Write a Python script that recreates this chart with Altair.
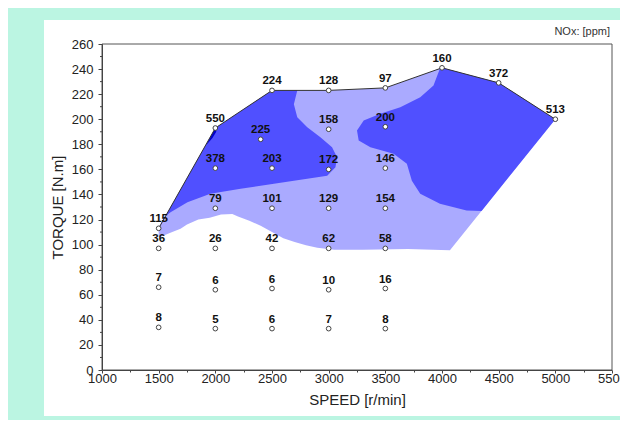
import altair as alt
import pandas as pd

# ---- measured points (speed rpm, torque N.m, NOx ppm label) ----
pt_speed = [1500, 1500, 1500, 1500,
            2000, 2000, 2000, 2000, 2000, 2000,
            2400,
            2500, 2500, 2500, 2500, 2500, 2500,
            3000, 3000, 3000, 3000, 3000, 3000, 3000,
            3500, 3500, 3500, 3500, 3500, 3500, 3500,
            4000, 4500, 5000]
pt_torque = [113, 97, 66, 34,
             193, 161, 129, 97, 64, 33,
             184,
             223, 161, 129, 97, 65, 33,
             223, 192, 160, 129, 97, 64, 33,
             225, 194, 161, 129, 97, 65, 33,
             241, 229, 200]
pt_nox = [115, 36, 7, 8,
          550, 378, 79, 26, 6, 5,
          225,
          224, 203, 101, 42, 6, 6,
          128, 158, 172, 129, 62, 10, 7,
          97, 200, 146, 154, 58, 16, 8,
          160, 372, 513]

# ---- full-load envelope ----
env_speed = [1500, 2000, 2500, 3000, 3500, 4000, 4500, 5000]
env_torque = [113, 193, 223, 223, 225, 241, 229, 200]

# ---- contour regions ----
light_speed = [1500, 2000, 2500, 3000, 3500, 4000, 4500, 5000, 4070,
               3700, 3300, 3050, 2900, 2800, 2700, 2600, 2500, 2400, 2300,
               2200, 2150, 2050, 1950, 1850, 1750, 1693, 1620, 1550, 1500]
light_torque = [113, 193, 223, 223, 225, 241, 229, 200, 95.5,
                96.5, 96, 96, 97.5, 99.5, 102, 105, 110, 115, 119,
                122.5, 124.5, 124, 121.5, 120, 116, 112.6, 110, 107.5, 106]

midL_speed = [1500, 2000, 2500, 2723, 2693, 2723, 2811, 2927, 3030, 3074,
              3060, 2987, 2811, 2517, 2223, 1956, 1754, 1605, 1546]
midL_torque = [113, 193, 223, 223, 212, 201.6, 193.6, 185.6, 177.7, 169.7,
               161.7, 155, 152.5, 148.5, 144.5, 140.5, 133.8, 125.8, 121.8]

midR_speed = [3982, 4000, 4500, 5000, 4349, 4217, 3982, 3808, 3734, 3690,
              3573, 3368, 3265, 3250, 3309, 3456, 3632, 3808, 3925]
midR_torque = [240.4, 241, 229, 200, 126.8, 127.2, 132.5, 140.5, 151, 164.4,
               172.4, 177.7, 183, 191, 199, 204.3, 209.6, 217.5, 226.9]

high_speed = [1920, 2000, 2008, 1975]
high_torque = [179.4, 193, 190, 185]

# ---- axis ticks ----
x_ticks = list(range(1000, 5501, 250))
y_major = list(range(0, 261, 20))
y_minor = list(range(10, 260, 20))


def poly(sp, tq):
    return pd.DataFrame({"speed": sp, "torque": tq, "i": list(range(len(sp)))})


pts = pd.DataFrame({"speed": pt_speed, "torque": pt_torque, "nox": pt_nox})
env = pd.DataFrame({"speed": env_speed, "torque": env_torque, "i": list(range(len(env_speed)))})
minor = pd.DataFrame({"torque": y_minor})

FONT = "Liberation Sans"

xs = alt.Scale(domain=[1000, 5500], nice=False, zero=False)
ys = alt.Scale(domain=[0, 260], nice=False)

x_axis = alt.Axis(
    values=x_ticks, format="d",
    labelExpr="datum.value % 500 === 0 ? datum.label : ''",
    tickSize={"condition": {"test": "datum.value % 500 === 0", "value": 3}, "value": 2},
    labelPadding=-1, labelOverlap=False, labelFlush=False, grid=False,
    title="SPEED [r/min]", titlePadding=7, zindex=1,
)
y_axis = alt.Axis(
    values=y_major, format="d", tickSize=4,
    labelPadding=5, labelOverlap=False, labelFlush=False, grid=False,
    title="TORQUE [N.m]", titlePadding=6, zindex=1,
)

X = alt.X("speed:Q", scale=xs, axis=x_axis)
Y = alt.Y("torque:Q", scale=ys, axis=y_axis)

one = pd.DataFrame({"a": [0]})

panel = alt.Chart(one).mark_rect(color="white").encode(
    x=alt.value(-58), x2=alt.value(530), y=alt.value(-24), y2=alt.value(372)
)
frame = alt.Chart(one).mark_rect(fillOpacity=0, stroke="#555555", strokeWidth=1).encode(
    x=alt.value(0), x2=alt.value(510), y=alt.value(0), y2=alt.value(326)
)


def region(df, col):
    return alt.Chart(df).mark_line(filled=True, color=col, strokeWidth=0.5).encode(
        x=X, y=Y, order=alt.Order("i:Q"),
    )


light = region(poly(light_speed, light_torque), "#aaaaff")
midL = region(poly(midL_speed, midL_torque), "#5050ff")
midR = region(poly(midR_speed, midR_torque), "#5050ff")
high = region(poly(high_speed, high_torque), "#0000cc")

minor_ticks = alt.Chart(minor).mark_rule(color="#444444", strokeWidth=1).encode(
    y=Y, x=alt.value(-2), x2=alt.value(0)
)

envelope = alt.Chart(env).mark_line(color="#333333", strokeWidth=1).encode(
    x=X, y=Y, order="i:Q"
)

points = alt.Chart(pts).mark_point(
    shape="circle", filled=True, fill="white", stroke="#444444", strokeWidth=1, size=22, opacity=1
).encode(x=X, y=Y)

labels = alt.Chart(pts).mark_text(
    font=FONT, fontSize=11.5, fontWeight="bold", color="#111111", baseline="bottom", dy=-4
).encode(x=X, y=Y, text="nox:N")

unit = alt.Chart(one).mark_text(
    font=FONT, fontSize=11, color="#333333", align="right", baseline="alphabetic"
).encode(x=alt.value(508), y=alt.value(-9), text=alt.value("NOx: [ppm]"))

chart = alt.layer(
    panel, frame, light, midL, midR, high, minor_ticks, envelope, points, labels, unit
).properties(
    width=510, height=326,
    background="#bbf5e2",
    padding={"left": 94, "top": 36, "right": 8, "bottom": 50},
    autosize=alt.AutoSizeParams(type="none"),
).configure_view(strokeWidth=0).configure_axis(
    domainColor="#444444", tickColor="#444444", labelColor="#222222",
    labelFont=FONT, labelFontSize=13, titleFont=FONT, titleFontSize=15,
    titleFontWeight="normal", titleColor="#222222",
)

chart.save("out.html", embed_options={"renderer": "svg", "actions": False})
